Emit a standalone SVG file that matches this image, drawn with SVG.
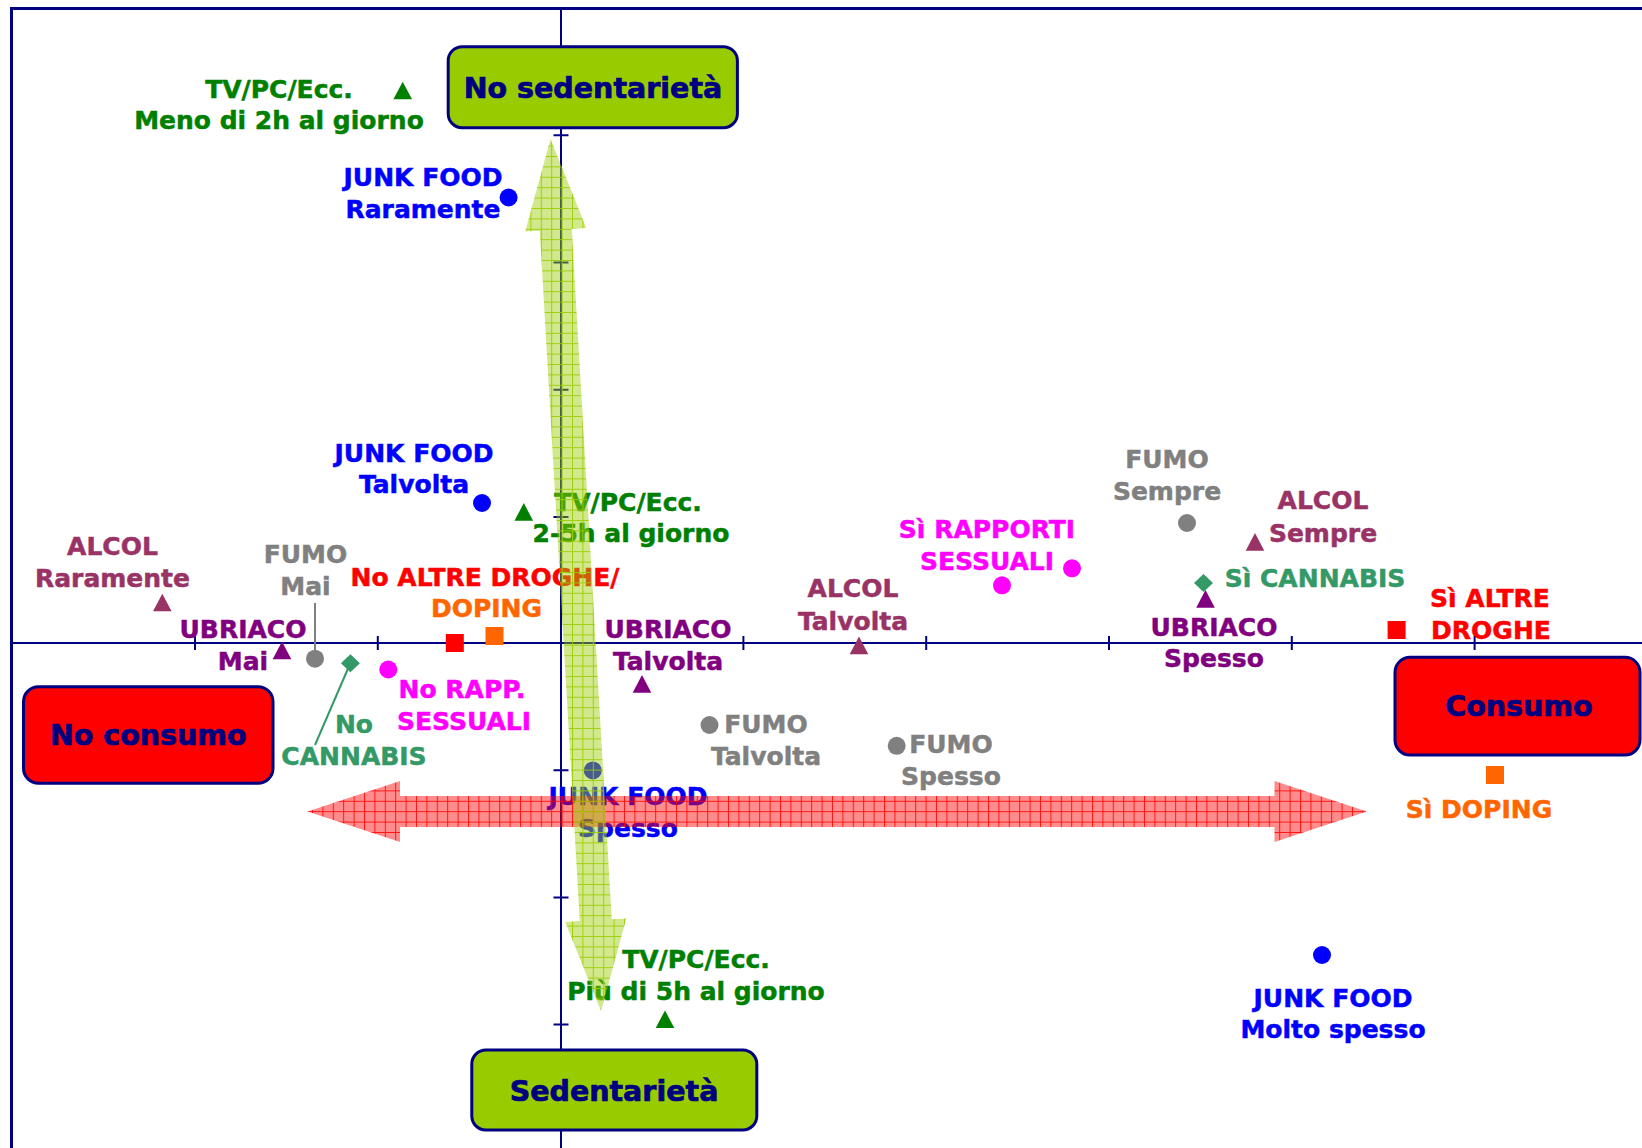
<svg xmlns="http://www.w3.org/2000/svg" width="1642" height="1148" viewBox="0 0 1642 1148">
<style>
.t{font-family:Verdana,'DejaVu Sans',sans-serif;font-weight:bold;font-size:25px;text-anchor:middle;stroke-width:0.5}
.bx{font-family:Verdana,'DejaVu Sans',sans-serif;font-weight:bold;font-size:28.5px;text-anchor:middle;fill:#000080;stroke:#000080;stroke-width:0.7}
.green{fill:#008000;stroke:#008000}.blue{fill:#0000ff;stroke:#0000ff}.maroon{fill:#993366;stroke:#993366}.grey{fill:#808080;stroke:#808080}.purple{fill:#800080;stroke:#800080}
.red{fill:#ff0000;stroke:#ff0000}.orange{fill:#ff6600;stroke:#ff6600}.magenta{fill:#ff00ff;stroke:#ff00ff}.sea{fill:#339966;stroke:#339966}
.m{stroke-width:0}
.axis{stroke:#000080;stroke-width:2;fill:none}
.gbox{fill:#99cc00;stroke:#000080;stroke-width:3}
.rbox{fill:#ff0000;stroke:#000080;stroke-width:3}
</style>
<defs>
<path id="tri" d="M0,-8.8 L9.3,8.8 L-9.3,8.8 Z"/>
<rect id="sq" x="-9" y="-9" width="18" height="18"/>
<path id="dia" d="M0,-9 L9.5,0 L0,9 L-9.5,0 Z"/>
<pattern id="pr" patternUnits="userSpaceOnUse" width="10.4" height="10.4">
<rect width="10.4" height="10.4" fill="#ff0000" fill-opacity="0.45"/>
<path d="M0,0.5 H10.4 M0.5,0 V10.4" stroke="#ff0000" stroke-width="1" stroke-opacity="0.85"/>
</pattern>
<pattern id="pg" patternUnits="userSpaceOnUse" width="10.4" height="10.4">
<rect width="10.4" height="10.4" fill="#99cc00" fill-opacity="0.45"/>
<path d="M0,0.5 H10.4 M0.5,0 V10.4" stroke="#99cc00" stroke-width="1" stroke-opacity="0.9"/>
</pattern>
</defs>
<rect width="1642" height="1148" fill="#ffffff"/>
<g id="frame">
<rect x="11.5" y="8.5" width="1700" height="1200" fill="none" stroke="#000080" stroke-width="3"/>
</g>
<g id="axes">
<line class="axis" x1="11.5" y1="643" x2="1642" y2="643"/>
<line class="axis" x1="561" y1="8.5" x2="561" y2="1148"/>
<path class="axis" d="M195,636V650 M377.8,636V650 M743.4,636V650 M926.2,636V650 M1109,636V650 M1291.8,636V650 M1474.6,636V650"/>
<path class="axis" d="M553.5,135.3H568.5 M553.5,262.5H568.5 M553.5,389.7H568.5 M553.5,516.9H568.5 M553.5,770.2H568.5 M553.5,897.4H568.5 M553.5,1024.6H568.5"/>
</g>
<g id="connectors">
<line x1="315" y1="603" x2="315" y2="650" stroke="#808080" stroke-width="2"/>
<line x1="350.4" y1="663" x2="315" y2="745" stroke="#339966" stroke-width="2"/>
</g>
<g id="box-no-sedentarieta">
<rect class="gbox" x="448.2" y="46.7" width="289.2" height="81" rx="14"/>
<text class="bx" x="593" y="98.3">No sedentarietà</text>
</g>
<g id="box-sedentarieta">
<rect class="gbox" x="471.8" y="1050" width="285" height="80" rx="14"/>
<text class="bx" x="614" y="1100.7">Sedentarietà</text>
</g>
<g id="box-no-consumo">
<rect class="rbox" x="23.5" y="686.7" width="249.5" height="96.6" rx="15"/>
<text class="bx" x="148.3" y="745">No consumo</text>
</g>
<g id="box-consumo">
<rect class="rbox" x="1395" y="657.3" width="245" height="97.7" rx="15"/>
<text class="bx" x="1519" y="716">Consumo</text>
</g>
<g id="tv-meno-2h">
<use href="#tri" class="green m" x="402.7" y="90.5"/>
<text class="t green" x="279" y="97.7">TV/PC/Ecc.</text>
<text class="t green" x="279" y="129.3">Meno di 2h al giorno</text>
</g>
<g id="junk-raramente">
<circle class="blue m" cx="508.6" cy="197.5" r="9"/>
<text class="t blue" x="423" y="185.7">JUNK FOOD</text>
<text class="t blue" x="423" y="218.3">Raramente</text>
</g>
<g id="junk-talvolta">
<circle class="blue m" cx="482" cy="503" r="9"/>
<text class="t blue" x="414" y="461.7">JUNK FOOD</text>
<text class="t blue" x="414" y="493.3">Talvolta</text>
</g>
<g id="tv-2-5h">
<use href="#tri" class="green m" x="523.8" y="511.9"/>
<text class="t green" x="628" y="510.7">TV/PC/Ecc.</text>
<text class="t green" x="631" y="541.7">2-5h al giorno</text>
</g>
<g id="alcol-raramente">
<use href="#tri" class="maroon m" x="162.3" y="602.5"/>
<text class="t maroon" x="112.5" y="555">ALCOL</text>
<text class="t maroon" x="112.5" y="586.7">Raramente</text>
</g>
<g id="fumo-mai">
<circle class="grey m" cx="315" cy="658.7" r="9"/>
<text class="t grey" x="305.5" y="563.3">FUMO</text>
<text class="t grey" x="305.5" y="595">Mai</text>
</g>
<g id="ubriaco-mai">
<use href="#tri" class="purple m" x="282" y="650.4"/>
<text class="t purple" x="243" y="638.3">UBRIACO</text>
<text class="t purple" x="243" y="670">Mai</text>
</g>
<g id="no-altre-droghe-doping">
<use href="#sq" class="red m" x="454.8" y="643"/>
<use href="#sq" class="orange m" x="494.5" y="636"/>
<text class="t red" x="485" y="585.7">No ALTRE DROGHE/</text>
<text class="t orange" x="486.5" y="616.7">DOPING</text>
</g>
<g id="no-cannabis">
<use href="#dia" class="sea m" x="350.4" y="663.3"/>
<text class="t sea" x="354" y="733.3">No</text>
<text class="t sea" x="354" y="765">CANNABIS</text>
</g>
<g id="no-rapporti">
<circle class="magenta m" cx="388.3" cy="669.5" r="9"/>
<text class="t magenta" x="462" y="698.3">No RAPP.</text>
<text class="t magenta" x="464" y="730">SESSUALI</text>
</g>
<g id="ubriaco-talvolta">
<use href="#tri" class="purple m" x="642" y="683.9"/>
<text class="t purple" x="668" y="637.7">UBRIACO</text>
<text class="t purple" x="668" y="670">Talvolta</text>
</g>
<g id="fumo-talvolta">
<circle class="grey m" cx="709.5" cy="725" r="9"/>
<text class="t grey" x="766" y="733.3">FUMO</text>
<text class="t grey" x="766" y="765">Talvolta</text>
</g>
<g id="fumo-spesso">
<circle class="grey m" cx="896.7" cy="745.8" r="9"/>
<text class="t grey" x="951" y="752.7">FUMO</text>
<text class="t grey" x="951" y="785">Spesso</text>
</g>
<g id="junk-spesso">
<circle class="blue m" cx="592.8" cy="770.5" r="9"/>
<text class="t blue" x="628" y="805">JUNK FOOD</text>
<text class="t blue" x="628" y="836.7">Spesso</text>
</g>
<g id="tv-piu-5h">
<use href="#tri" class="green m" x="665" y="1019.2"/>
<text class="t green" x="696" y="968.3">TV/PC/Ecc.</text>
<text class="t green" x="696" y="1000">Più di 5h al giorno</text>
</g>
<g id="alcol-talvolta">
<use href="#tri" class="maroon m" x="859" y="645.4"/>
<text class="t maroon" x="853" y="596.7">ALCOL</text>
<text class="t maroon" x="853" y="630">Talvolta</text>
</g>
<g id="si-rapporti">
<circle class="magenta m" cx="1002" cy="585.3" r="9"/>
<circle class="magenta m" cx="1072" cy="568.3" r="9"/>
<text class="t magenta" x="987" y="538.3">Sì RAPPORTI</text>
<text class="t magenta" x="987" y="570">SESSUALI</text>
</g>
<g id="fumo-sempre">
<circle class="grey m" cx="1187" cy="523" r="9"/>
<text class="t grey" x="1167" y="468.3">FUMO</text>
<text class="t grey" x="1167" y="500">Sempre</text>
</g>
<g id="alcol-sempre">
<use href="#tri" class="maroon m" x="1255" y="541.9"/>
<text class="t maroon" x="1323" y="509.3">ALCOL</text>
<text class="t maroon" x="1323" y="541.7">Sempre</text>
</g>
<g id="si-cannabis">
<use href="#dia" class="sea m" x="1203.5" y="583"/>
<text class="t sea" x="1315" y="586.7">Sì CANNABIS</text>
</g>
<g id="ubriaco-spesso">
<use href="#tri" class="purple m" x="1205.5" y="598.9"/>
<text class="t purple" x="1214" y="636">UBRIACO</text>
<text class="t purple" x="1214" y="666.7">Spesso</text>
</g>
<g id="si-altre-droghe">
<use href="#sq" class="red m" x="1396.6" y="630"/>
<text class="t red" x="1490" y="606.7">Sì ALTRE</text>
<text class="t red" x="1491" y="639.3">DROGHE</text>
</g>
<g id="si-doping">
<use href="#sq" class="orange m" x="1495" y="775"/>
<text class="t orange" x="1479" y="818.3">Sì DOPING</text>
</g>
<g id="junk-molto-spesso">
<circle class="blue m" cx="1322" cy="955" r="9"/>
<text class="t blue" x="1333" y="1006.7">JUNK FOOD</text>
<text class="t blue" x="1333" y="1038.3">Molto spesso</text>
</g>
<g id="arrows">
<polygon id="arrow-consumo" fill="url(#pr)" points="307.5,811.5 400,781 400,796 1274.5,796 1274.5,781 1366.8,811.5 1274.5,842 1274.5,827 400,827 400,842"/>
<polygon id="arrow-sedentarieta" fill="url(#pg)" points="550.5,139 586.31,228.08 571.73,228.92 611.71,919.22 626.29,918.38 601,1011 565.19,921.92 579.77,921.08 539.79,230.78 525.21,231.62"/>
</g>
</svg>
